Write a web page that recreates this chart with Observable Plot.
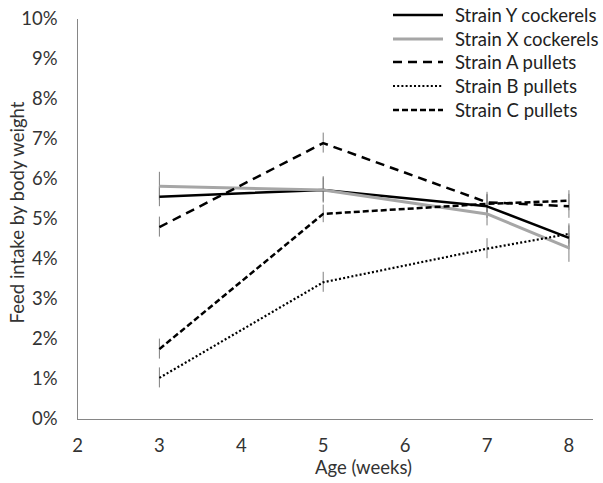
<!DOCTYPE html>
<html>
<head>
<meta charset="utf-8">
<script src="https://cdn.jsdelivr.net/npm/d3@7"></script>
<script src="https://cdn.jsdelivr.net/npm/@observablehq/plot@0.6"></script>
<style>
  html, body { margin: 0; padding: 0; background: #fff; }
  #wrap { position: relative; width: 603px; height: 483px; font-family: Lato, "Open Sans", sans-serif; }
  #legend { position: absolute; left: 393px; top: 3px; font-size: 18.5px; color: #222; }
  #legend .row { display: flex; align-items: center; height: 23.8px; }
  #legend svg { width: 50px; height: 10px; margin-right: 12px; flex: none; }
</style>
</head>
<body>
<div id="wrap"></div>
<script>
// Data
const weeks = [3, 5, 7, 8];
const seriesNames = ["Strain Y cockerels", "Strain X cockerels", "Strain A pullets", "Strain B pullets", "Strain C pullets"];
const strainY = [5.57, 5.74, 5.33, 4.54];
const strainX = [5.83, 5.74, 5.14, 4.29];
const strainA = [4.81, 6.91, 5.43, 5.33];
const strainB = [1.04, 3.43, 4.27, 4.64];
const strainC = [1.76, 5.14, 5.39, 5.47];
const errY = [0.25, 0.33, 0.30, 0.30];
const errX = [0.35, 0.30, 0.30, 0.36];
const errA = [0.25, 0.25, 0.25, 0.30];
const errB = [0.25, 0.25, 0.25, 0.25];
const errC = [0.25, 0.22, 0.22, 0.25];
const xTicks = [2, 3, 4, 5, 6, 7, 8];
const yTicks = [0, 1, 2, 3, 4, 5, 6, 7, 8, 9, 10];

const styles = {
  "Strain Y cockerels": {stroke: "#000", width: 2.5, dash: null},
  "Strain X cockerels": {stroke: "#a6a6a6", width: 3, dash: null},
  "Strain A pullets": {stroke: "#000", width: 2.5, dash: "9,6"},
  "Strain B pullets": {stroke: "#000", width: 2.2, dash: "2,2.2"},
  "Strain C pullets": {stroke: "#000", width: 2.5, dash: "6,3"}
};

const values = [strainY, strainX, strainA, strainB, strainC];
const errs = [errY, errX, errA, errB, errC];
const rows = [];
seriesNames.forEach((name, i) => {
  weeks.forEach((w, j) => rows.push({series: name, week: w, value: values[i][j], err: errs[i][j]}));
});

const lineMarks = seriesNames.map(name => Plot.line(rows.filter(d => d.series === name), {
  x: "week", y: "value",
  stroke: styles[name].stroke,
  strokeWidth: styles[name].width,
  strokeDasharray: styles[name].dash,
  strokeLinejoin: "miter",
  strokeLinecap: "butt"
}));

const FS = 18.5;
const chart = Plot.plot({
  width: 603,
  height: 483,
  marginLeft: 77,
  marginRight: 10,
  marginTop: 19,
  marginBottom: 64,
  style: {fontFamily: "Lato, 'Open Sans', sans-serif", fontSize: FS + "px", color: "#333", background: "#fff"},
  x: {domain: [2, 8.3]},
  y: {domain: [0, 10]},
  marks: [
    Plot.ruleY([0], {stroke: "#868686", strokeWidth: 1}),
    Plot.ruleX([2], {stroke: "#868686", strokeWidth: 1}),
    Plot.axisX({ticks: xTicks, tickSize: 0, tickPadding: 19, tickFormat: d => String(d), label: null, fontSize: FS}),
    Plot.axisY({ticks: yTicks, tickSize: 0, tickPadding: 20, tickFormat: d => d + "%", label: null, fontSize: FS}),
    Plot.text(["Age (weeks)"], {frameAnchor: "bottom", lineAnchor: "middle", dy: 49, dx: 28, fontSize: FS, fill: "#333"}),
    Plot.text(["Feed intake by body weight"], {frameAnchor: "left", textAnchor: "middle", dx: -59, dy: -7, rotate: -90, fontSize: FS, fill: "#333"}),
    Plot.ruleX(rows, {x: "week", y1: d => d.value - d.err, y2: d => d.value + d.err, stroke: "#7f7f7f", strokeWidth: 1}),
    ...lineMarks
  ]
});

const wrap = document.getElementById("wrap");
wrap.appendChild(chart);

const legend = document.createElement("div");
legend.id = "legend";
seriesNames.forEach(name => {
  const s = styles[name];
  const row = document.createElement("div");
  row.className = "row";
  row.innerHTML = `<svg viewBox="0 0 50 10"><line x1="0" y1="5" x2="50" y2="5" stroke="${s.stroke}" stroke-width="${s.width}" ${s.dash ? `stroke-dasharray="${s.dash}"` : ""}/></svg><span>${name}</span>`;
  legend.appendChild(row);
});
wrap.appendChild(legend);
</script>
</body>
</html>
